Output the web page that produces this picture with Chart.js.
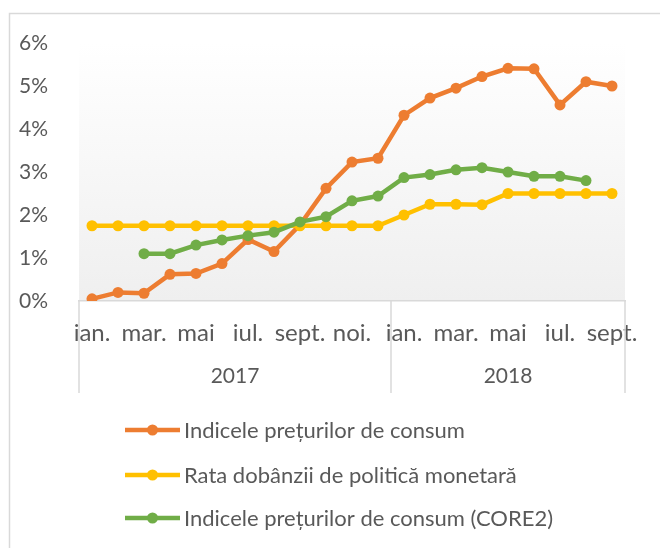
<!DOCTYPE html>
<html>
<head>
<meta charset="utf-8">
<script src="https://cdn.jsdelivr.net/npm/chart.js@4/dist/chart.umd.min.js"></script>
<style>
  html, body { margin: 0; background: #fff; }
</style>
</head>
<body>
<canvas id="myChart" width="660" height="548"></canvas>
<script>
const months = ['ian.', 'feb.', 'mar.', 'apr.', 'mai', 'iun.', 'iul.', 'aug.', 'sept.', 'oct.', 'noi.', 'dec.',
                'ian.', 'feb.', 'mar.', 'apr.', 'mai', 'iun.', 'iul.', 'aug.', 'sept.'];
const years = ['2017', '2018'];
const yearSpans = [12, 9];

const cpi = [0.05, 0.2, 0.18, 0.62, 0.64, 0.87, 1.43, 1.15, 1.77, 2.62, 3.23, 3.32,
             4.32, 4.72, 4.95, 5.22, 5.41, 5.4, 4.56, 5.1, 5.0];
const policyRate = [1.75, 1.75, 1.75, 1.75, 1.75, 1.75, 1.75, 1.75, 1.75, 1.75, 1.75, 1.75,
                    2.0, 2.25, 2.25, 2.24, 2.5, 2.5, 2.5, 2.5, 2.5];
const core2 = [null, null, 1.1, 1.1, 1.3, 1.42, 1.52, 1.6, 1.84, 1.96, 2.33, 2.44,
               2.87, 2.94, 3.05, 3.1, 3.0, 2.9, 2.9, 2.8, null];

const seriesNames = ['Indicele prețurilor de consum', 'Rata dobânzii de politică monetară',
                     'Indicele prețurilor de consum (CORE2)'];
const seriesColors = ['#ED7D31', '#FFC000', '#70AD47'];

const textColor = '#595959';
const lineColor = '#d9d9d9';
const fontFamily = 'Lato, "Open Sans", sans-serif';
const legendRows = [129, 174, 217];  // offsets below the plot area

// year groups: centres and borders in category units
const yearBorders = [-0.5];
const yearCenters = [];
yearSpans.forEach(n => {
  const start = yearBorders[yearBorders.length - 1];
  yearCenters.push(start + n / 2);
  yearBorders.push(start + n);
});

const frame = {
  id: 'frame',
  beforeDraw(chart) {
    const ctx = chart.ctx;
    const a = chart.chartArea;
    ctx.save();
    ctx.strokeStyle = lineColor;
    ctx.lineWidth = 1.5;
    ctx.strokeRect(9.5, 13.5, 800, 800);
    const g = ctx.createLinearGradient(0, a.top, 0, a.bottom);
    g.addColorStop(0, '#ffffff');
    g.addColorStop(1, '#efefef');
    ctx.fillStyle = g;
    ctx.fillRect(a.left, a.top, a.right - a.left, a.bottom - a.top);
    ctx.restore();
  },
  afterDraw(chart) {
    const ctx = chart.ctx;
    const a = chart.chartArea;
    const x2 = chart.scales.x2;
    ctx.save();
    // year dividers
    ctx.strokeStyle = lineColor;
    ctx.lineWidth = 1.5;
    yearBorders.forEach(b => {
      const px = x2.getPixelForValue(b);
      ctx.beginPath();
      ctx.moveTo(px, a.bottom);
      ctx.lineTo(px, x2.bottom);
      ctx.stroke();
    });
    // legend
    ctx.font = '22px ' + fontFamily;
    ctx.textBaseline = 'middle';
    ctx.textAlign = 'left';
    chart.data.datasets.forEach((ds, i) => {
      const y = a.bottom + legendRows[i];
      const x0 = a.left + 46;
      ctx.strokeStyle = ds.borderColor;
      ctx.lineWidth = 4.5;
      ctx.beginPath();
      ctx.moveTo(x0, y);
      ctx.lineTo(x0 + 55, y);
      ctx.stroke();
      ctx.fillStyle = ds.borderColor;
      ctx.beginPath();
      ctx.arc(x0 + 27.5, y, 5.5, 0, Math.PI * 2);
      ctx.fill();
      ctx.fillStyle = textColor;
      ctx.fillText(ds.label, x0 + 59, y + 1);
    });
    ctx.restore();
  }
};

function makeSeries(i, data, order) {
  return {
    label: seriesNames[i],
    data: data,
    borderColor: seriesColors[i],
    backgroundColor: seriesColors[i],
    borderWidth: 4.5,
    pointRadius: 5.5,
    pointHoverRadius: 5.5,
    pointBorderWidth: 0,
    tension: 0,
    spanGaps: false,
    order: order
  };
}

const ctx = document.getElementById('myChart').getContext('2d');
const myChart = new Chart(ctx, {
  type: 'line',
  data: {
    labels: months,
    datasets: [
      makeSeries(0, cpi, 3),
      makeSeries(1, policyRate, 2),
      makeSeries(2, core2, 1)
    ]
  },
  options: {
    responsive: false,
    animation: false,
    layout: { padding: { top: 43, right: 35, bottom: 155, left: 0 } },
    plugins: {
      legend: { display: false },
      tooltip: { enabled: false }
    },
    scales: {
      x: {
        type: 'category',
        offset: true,
        grid: { display: false },
        border: { display: true, color: lineColor, width: 1.5 },
        afterFit: s => { s.height = 45; },
        ticks: {
          autoSkip: false,
          maxRotation: 0,
          minRotation: 0,
          padding: 10,
          color: textColor,
          font: { family: fontFamily, size: 24 },
          callback: (v, i) => (i % 2 === 0 ? months[i] : '')
        }
      },
      x2: {
        type: 'linear',
        position: 'bottom',
        min: yearBorders[0],
        max: yearBorders[yearBorders.length - 1],
        grid: { display: false },
        border: { display: false },
        afterFit: s => { s.height = 47; },
        afterBuildTicks: s => { s.ticks = yearCenters.map(v => ({ value: v })); },
        ticks: {
          autoSkip: false,
          maxRotation: 0,
          padding: 10,
          color: textColor,
          font: { family: fontFamily, size: 21 },
          callback: v => years[yearCenters.indexOf(v)]
        }
      },
      y: {
        min: 0,
        max: 6,
        grid: { display: false },
        border: { display: false },
        afterFit: s => { s.width = 79; },
        ticks: {
          stepSize: 1,
          padding: 23,
          color: textColor,
          font: { family: fontFamily, size: 21 },
          callback: v => v + '%'
        }
      }
    }
  },
  plugins: [frame]
});
</script>
</body>
</html>
